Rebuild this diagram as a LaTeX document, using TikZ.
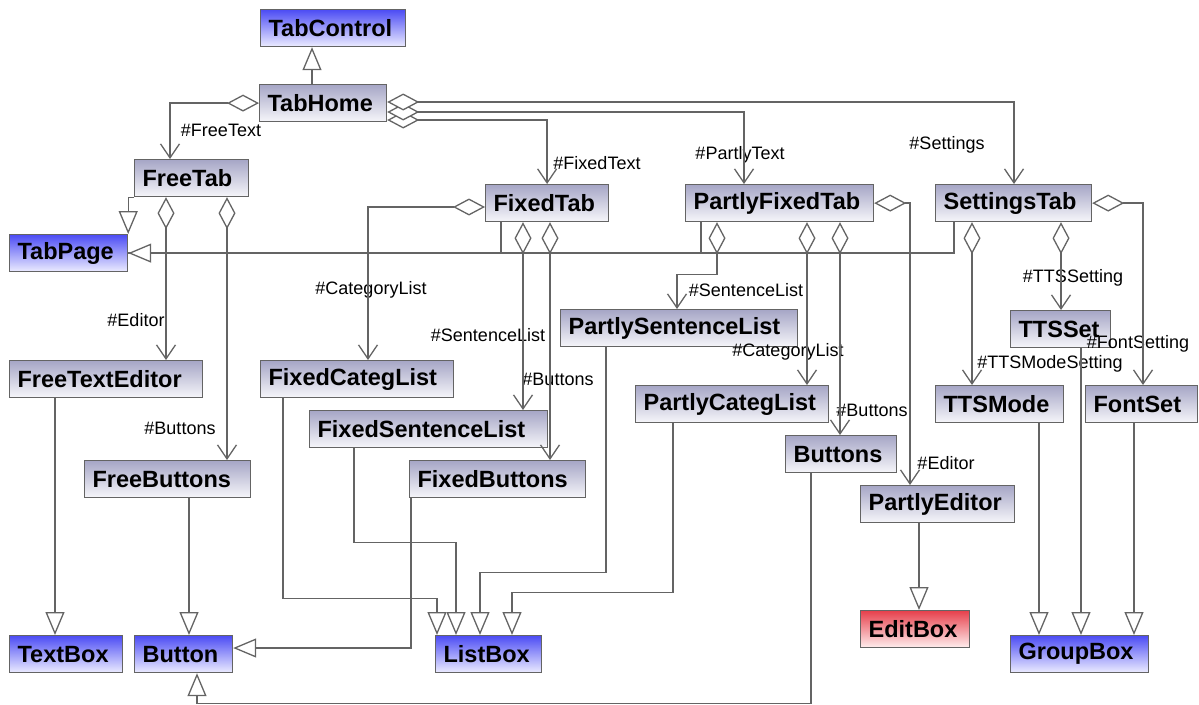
\documentclass[tikz,border=0pt]{standalone}
\usepackage{fontspec}
\setmainfont{Liberation Sans}
\usetikzlibrary{arrows.meta}
\definecolor{umline}{HTML}{646464}
\definecolor{umclstop}{HTML}{A6A6C6}
\definecolor{umclsbot}{HTML}{F6F6FA}
\definecolor{umlibtop}{HTML}{4C4CF4}
\definecolor{umlibbot}{HTML}{ECECFF}
\definecolor{umedtop}{HTML}{E6404C}
\definecolor{umedbot}{HTML}{FFEEEE}

\begin{document}
\begin{tikzpicture}[
  x=1pt, y=-1pt,
  cls/.style={draw=umline, line width=1.2pt, anchor=north west,
              top color=umclstop, bottom color=umclsbot,
              minimum height=37pt, inner xsep=8pt, inner ysep=0pt, align=left,
              font=\fontsize{23.5}{26}\selectfont\bfseries},
  lib/.style={cls, top color=umlibtop, bottom color=umlibbot},
  red/.style={cls, top color=umedtop, bottom color=umedbot},
  lbl/.style={font=\fontsize{18}{20}\selectfont, inner sep=0pt},
  conn/.style={draw=umline, line width=1.3pt},
  agg/.style={conn, arrows={Diamond[fill=white,length=32pt,width=17pt]-Straight Barb[length=14pt,width=19pt]}},
  inh/.style={conn, arrows={-Triangle[fill=white,length=23pt,width=19pt]}},
]
  \useasboundingbox (0,0) rectangle (1199,704);

  % classes
  \node[lib, text width=129pt] (tabctrl)  at (260,9)    {TabControl};
  \node[cls, text width=111pt] (tabhome)  at (259,84)   {TabHome};
  \node[cls, text width=98pt]  (freetab)  at (134,159)  {FreeTab};
  \node[lib, text width=102pt] (tabpage)  at (9,234)    {TabPage};
  \node[cls, text width=107pt] (fixtab)   at (485,184)  {FixedTab};
  \node[cls, text width=172pt] (pftab)    at (685,184)  {PartlyFixedTab};
  \node[cls, text width=140pt] (settab)   at (935,184)  {SettingsTab};
  \node[cls, text width=177pt] (fteditor) at (9,360)    {FreeTextEditor};
  \node[cls, text width=150pt] (freebtn)  at (84,460)   {FreeButtons};
  \node[cls, text width=177pt] (fcateg)   at (260,360)  {FixedCategList};
  \node[cls, text width=222pt] (fsent)    at (309,410)  {FixedSentenceList};
  \node[cls, text width=160pt] (fbtn)     at (409,460)  {FixedButtons};
  \node[cls, text width=221pt] (psent)    at (560,309)  {PartlySentenceList};
  \node[cls, text width=177pt] (pcateg)   at (635,385)  {PartlyCategList};
  \node[cls, text width=95pt]  (pbtn)     at (785,435)  {Buttons};
  \node[cls, text width=138pt] (peditor)  at (860,485)  {PartlyEditor};
  \node[cls, text width=84pt]  (ttsset)   at (1010,310) {TTSSet};
  \node[cls, text width=112pt] (ttsmode)  at (935,385)  {TTSMode};
  \node[cls, text width=96pt]  (fontset)  at (1085,385) {FontSet};
  \node[lib, text width=97pt]  (textbox)  at (9,635)    {TextBox};
  \node[lib, text width=82pt]  (button)   at (134,635)  {Button};
  \node[lib, text width=90pt]  (listbox)  at (435,635)  {ListBox};
  \node[red, text width=93pt]  (editbox)  at (860,610)  {EditBox};
  \node[lib, text width=122pt] (groupbox) at (1010,635) {GroupBox};

  % labels
  \node[lbl] (lfreetext)  at (221,130)  {\#FreeText};
  \node[lbl] (lfixedtext) at (597,163)  {\#FixedText};
  \node[lbl] (lpartly)    at (740,155)  {\#PartlyText};
  \node[lbl] (lsettings)  at (947,145)  {\#Settings};
  \node[lbl] (lfeditor)   at (136,320)  {\#Editor};
  \node[lbl] (lfbuttons)  at (180,428)  {\#Buttons};
  \node[lbl] (lfxcateg)   at (371,290)  {\#CategoryList};
  \node[lbl] (lfxsent)    at (488,335)  {\#SentenceList};
  \node[lbl] (lfxbuttons) at (558,379)  {\#Buttons};
  \node[lbl] (lpsent)     at (746,290)  {\#SentenceList};
  \node[lbl] (lpcateg)    at (788,352)  {\#CategoryList};
  \node[lbl] (lpbuttons)  at (872,410)  {\#Buttons};
  \node[lbl] (lpeditor)   at (946,463)  {\#Editor};
  \node[lbl] (lttsset)    at (1073,278) {\#TTSSetting};
  \node[lbl] (lttsmode)   at (1050,364) {\#TTSModeSetting};
  \node[lbl] (lfontset)   at (1138,344) {\#FontSetting};

  % inheritance
  \draw[inh] (tabhome.north -| 312,0) -- (tabctrl.south -| 312,0);
  \draw[inh] (freetab.south west) -| (tabpage.north east);
  \draw[conn] (fixtab.south -| 501,0) |- (tabpage.east);
  \draw[conn] (pftab.south -| 701,0) |- (tabpage.east);
  \draw[inh] (settab.south -| 954,0) |- (tabpage.east);
  \draw[inh] (fteditor.south -| 55,0) -- (textbox.north -| 55,0);
  \draw[inh] (freebtn.south -| 189,0) -- (button.north -| 189,0);
  \draw[inh] (fbtn.south -| 411,0) |- (button.east |- 0,648);
  \draw[inh] (pbtn.south -| 811,0) -- ++(0,230) -| (button.south -| 197,0);
  \draw[inh] (fcateg.south -| 283,0) -- ++(0,200) -| (listbox.north -| 437,0);
  \draw[inh] (fsent.south -| 354,0) -- ++(0,94) -| (listbox.north -| 456,0);
  \draw[inh] (psent.south -| 606,0) -- ++(0,225) -| (listbox.north -| 480,0);
  \draw[inh] (pcateg.south -| 673,0) -- ++(0,169) -| (listbox.north -| 512,0);
  \draw[inh] (peditor.south -| 919,0) -- (editbox.north -| 919,0);
  \draw[inh] (ttsmode.south -| 1039,0) -- (groupbox.north -| 1039,0);
  \draw[inh] (ttsset.south -| 1081,0) -- (groupbox.north -| 1081,0);
  \draw[inh] (fontset.south -| 1134,0) -- (groupbox.north -| 1134,0);

  % aggregation
  \draw[agg] (tabhome.west) -| (freetab.north -| 170,0);
  \draw[agg] (tabhome.east |- 0,120) -| (fixtab.north);
  \draw[agg] (tabhome.east |- 0,112) -| (pftab.north -| 744,0);
  \draw[agg] (tabhome.east |- 0,102) -| (settab.north -| 1014,0);
  \draw[agg] (freetab.south -| 166,0) -- (fteditor.north -| 166,0);
  \draw[agg] (freetab.south -| 227,0) -- (freebtn.north -| 227,0);
  \draw[agg] (fixtab.west |- 0,207) -| (fcateg.north -| 368,0);
  \draw[agg] (fixtab.south -| 523,0) -- (fsent.north -| 523,0);
  \draw[agg] (fixtab.south -| 550,0) -- (fbtn.north -| 550,0);
  \draw[agg] (pftab.south -| 717,0) -- ++(0,52) -| (psent.north -| 677,0);
  \draw[agg] (pftab.south -| 807,0) -- (pcateg.north -| 807,0);
  \draw[agg] (pftab.south -| 840,0) -- (pbtn.north -| 840,0);
  \draw[agg] (pftab.east) -| (peditor.north -| 910,0);
  \draw[agg] (settab.south -| 972,0) -- (ttsmode.north -| 972,0);
  \draw[agg] (settab.south -| 1061,0) -- (ttsset.north -| 1061,0);
  \draw[agg] (settab.east) -| (fontset.north -| 1143,0);
\end{tikzpicture}
\end{document}
